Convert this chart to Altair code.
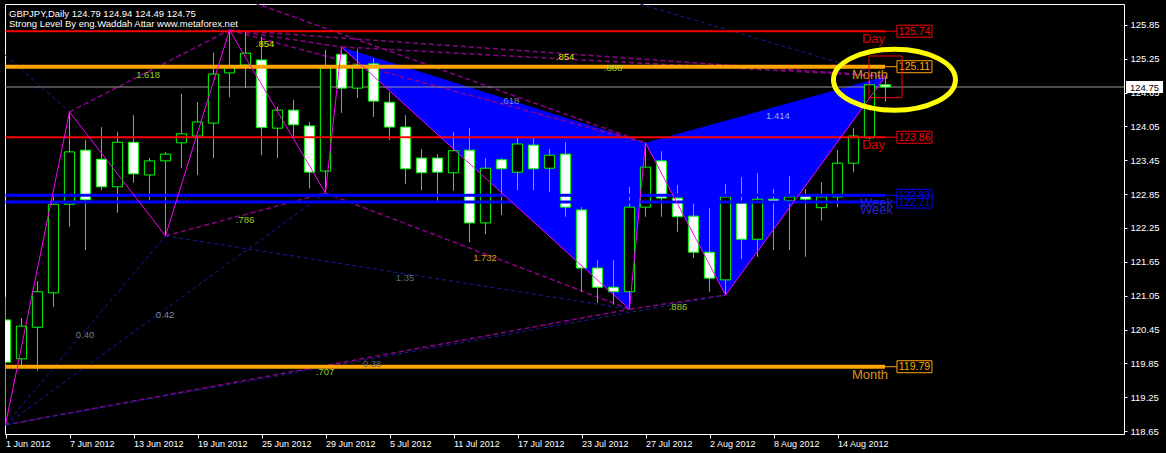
import altair as alt
import pandas as pd

# ---------------- GBPJPY daily bars, 1 Jun 2012 - 17 Aug 2012 ----------------
opens = [120.62, 119.93, 120.49, 121.10, 122.67, 123.63, 123.47, 122.98, 123.77, 123.19,
         123.44, 123.76, 123.88, 124.11, 125.00, 125.14, 125.23, 124.02, 124.34, 124.06,
         123.26, 125.33, 124.73, 125.16, 124.48, 124.04, 123.49, 123.49, 123.23, 123.63,
         122.34, 123.46, 123.24, 123.72, 123.31, 123.56, 122.57, 121.54, 121.20, 121.12,
         122.62, 123.44, 122.78, 122.46, 121.82, 121.33, 122.69, 122.05, 122.76, 122.74,
         122.82, 122.61, 122.80, 123.40, 123.85, 124.79]
highs = [121.03, 120.65, 121.31, 122.85, 124.31, 123.81, 124.04, 123.95, 124.25, 123.49,
         123.60, 124.63, 124.48, 125.36, 125.76, 125.73, 125.64, 124.40, 124.52, 124.13,
         125.41, 125.46, 125.42, 125.26, 124.66, 124.25, 123.65, 123.56, 123.95, 124.02,
         123.49, 123.49, 123.86, 123.86, 123.65, 123.77, 122.62, 121.68, 121.68, 122.98,
         123.76, 123.61, 123.01, 122.70, 122.61, 123.03, 123.15, 123.22, 122.94, 123.17,
         122.94, 123.06, 123.63, 124.02, 124.86, 124.94]
lows = [118.76, 119.75, 119.72, 120.85, 122.27, 121.86, 122.92, 122.52, 123.05, 122.75,
        122.11, 123.31, 123.19, 123.49, 124.57, 124.73, 123.54, 123.49, 123.88, 122.95,
        122.87, 124.29, 124.56, 124.22, 123.81, 123.03, 122.92, 122.73, 122.91, 122.00,
        122.14, 122.48, 122.92, 122.92, 122.89, 122.45, 121.12, 120.92, 120.89, 120.81,
        122.45, 122.45, 122.18, 121.72, 121.12, 121.06, 121.70, 121.74, 121.86, 121.86,
        121.74, 122.38, 122.62, 123.24, 123.82, 124.49]
closes = [119.87, 120.51, 121.12, 122.67, 123.60, 122.75, 122.98, 123.77, 123.21, 123.44,
          123.56, 123.92, 124.13, 124.98, 125.11, 125.35, 124.03, 124.34, 124.08, 123.24,
          125.09, 124.73, 125.14, 124.50, 124.04, 123.30, 123.23, 123.24, 123.62, 122.34,
          123.31, 123.30, 123.74, 123.30, 123.54, 122.62, 121.54, 121.20, 121.12, 122.62,
          123.33, 122.78, 122.45, 121.82, 121.36, 122.80, 122.05, 122.76, 122.72, 122.80,
          122.76, 122.80, 123.40, 123.88, 124.79, 124.75]

# date labels every fourth bar
date_labels = ["1 Jun 2012", "7 Jun 2012", "13 Jun 2012", "19 Jun 2012", "25 Jun 2012",
               "29 Jun 2012", "5 Jul 2012", "11 Jul 2012", "17 Jul 2012", "23 Jul 2012",
               "27 Jul 2012", "2 Aug 2012", "8 Aug 2012", "14 Aug 2012"]
price_ticks = [118.65, 119.25, 119.85, 120.45, 121.05, 121.65, 122.25,
               122.85, 123.45, 124.05, 124.65, 125.25, 125.85]

# zigzag swing points: (bar, "H" for high / "L" for low)
swings = [(0, "L"), (4, "H"), (10, "L"), (14, "H"), (20, "L"),
          (21, "H"), (39, "L"), (40, "H"), (45, "L"), (55, "H")]

# ratio lines between swing points (indices into swings)
purple_pairs = [(1, 3), (3, 5), (3, 7), (3, 9), (5, 9), (2, 4), (4, 6), (6, 8), (0, 6)]
navy_pairs = [(0, 2), (0, 4), (2, 6), (0, 8)]

# strong levels
level_prices = [125.74, 125.11, 123.86, 122.83, 122.71, 119.79]
level_tags = ["Day", "Month", "Day", "Week", "Week", "Month"]

# ratio annotations (bar position, price)
ratio_text = ["1.618", ".854", ".854", ".888", ".618", "1.414", ".786", "1.732",
              "1.35", "0.42", "0.40", ".886", ".707", "0.38"]
ratio_i = [8.91, 16.22, 34.97, 37.97, 31.53, 48.28, 14.97, 29.97,
           24.97, 9.97, 4.97, 42.03, 19.97, 22.91]
ratio_p = [124.96, 125.51, 125.28, 125.09, 124.50, 124.24, 122.39, 121.72,
           121.36, 120.71, 120.35, 120.85, 119.70, 119.84]
ratio_col = ["#9acd32", "#e6e600", "#e6e600", "#9acd32", "#6b8fd6", "#8fb3e6", "#9acd32",
             "#d4a010", "#5a6878", "#7d8ca0", "#6d7c90", "#9acd32", "#9acd32", "#5a6878"]

symbol = "GBPJPY"
last_close = closes[-1]

# ---------------- styling ----------------
FONT = "Liberation Sans"
GREEN = "#00ff00"
tag_style = {  # line colour, line width, text colour, label right edge (bar units)
    "Day": ("#ff0000", 2, "#dd0000", 54.97),
    "Month": ("#ffa500", 4, "#d9951f", 55.16),
    "Week": ("#0000ff", 3, "#2222cc", 55.47),
}
LINE_END = 54.97
BOX_START = 55.72
BOX_CENTER = 56.81

x_scale = alt.Scale(domain=[-0.03125, 69.90625], nice=False, zero=False)
y_scale = alt.Scale(domain=[118.597, 126.222], nice=False, zero=False)

x_axis = alt.Axis(
    values=list(range(0, 4 * len(date_labels), 4)),
    labelExpr="[" + ",".join(f"'{d}'" for d in date_labels) + "][round(datum.value / 4)]",
    orient="bottom", grid=False, domain=False, ticks=True, tickSize=4, tickColor="white",
    labelColor="white", labelFont=FONT, labelFontSize=9, labelAlign="left",
    labelBaseline="top", labelPadding=1, labelOverlap=False, labelFlush=False, title=None,
)
y_axis = alt.Axis(
    values=price_ticks, format=".2f", orient="right", grid=False, domain=False,
    tickSize=3, tickColor="white", labelColor="white", labelFont=FONT, labelFontSize=9.5,
    labelPadding=3, labelOverlap=False, labelFlush=False, title=None,
)


def X(f):
    return alt.X(f, type="quantitative", scale=x_scale, axis=x_axis)


def Y(f):
    return alt.Y(f, type="quantitative", scale=y_scale, axis=y_axis)


# ---------------- tables ----------------
bars = pd.DataFrame({"i": range(len(opens)), "o": opens, "h": highs, "l": lows, "c": closes})


def swing_point(k):
    b, kind = swings[k]
    return b, (highs[b] if kind == "H" else lows[b])


zz = pd.DataFrame([{"n": k, "i": swing_point(k)[0], "p": swing_point(k)[1]}
                   for k in range(len(swings))])


def seg_rows(pairs, tag):
    rows = []
    for a, b in pairs:
        for k in (a, b):
            i, p = swing_point(k)
            rows.append({"seg": f"{tag}{a}-{b}", "i": i, "p": p})
    return rows


purple = pd.DataFrame(seg_rows(purple_pairs, "p")
                      + [{"seg": "pe", "i": 15.09, "p": 126.29},
                         {"seg": "pe", "i": swing_point(7)[0], "p": swing_point(7)[1]}])
navy = pd.DataFrame(seg_rows(navy_pairs, "n")
                    + [{"seg": "na", "i": -0.03, "p": 125.32},
                       {"seg": "na", "i": swing_point(1)[0], "p": swing_point(1)[1]},
                       {"seg": "nb", "i": 37.16, "p": 126.43},
                       {"seg": "nb", "i": swing_point(9)[0], "p": swing_point(9)[1]}])


def triangle(a, b, c):
    # top edge a->c, bottom edge a->b->c
    (ia, pa), (ib, pb), (ic, pc) = swing_point(a), swing_point(b), swing_point(c)
    top_b = pa + (pc - pa) * (ib - ia) / (ic - ia)
    return [{"t": f"{a}", "i": ia, "top": pa, "bot": pa},
            {"t": f"{a}", "i": ib, "top": top_b, "bot": pb},
            {"t": f"{a}", "i": ic, "top": pc, "bot": pc}]


tri = pd.DataFrame(triangle(5, 6, 7) + triangle(7, 8, 9))

levels = pd.DataFrame({"p": level_prices, "tag": level_tags})
levels["col"] = levels["tag"].map(lambda t: tag_style[t][0])
levels["w"] = levels["tag"].map(lambda t: tag_style[t][1])
levels["tcol"] = levels["tag"].map(lambda t: tag_style[t][2])
levels["tx"] = levels["tag"].map(lambda t: tag_style[t][3])
levels["x0"] = 0.0
levels["x1"] = LINE_END
levels["x2"] = BOX_START
levels["xc"] = BOX_CENTER
levels["label"] = levels["p"].map(lambda v: f"{v:.2f}")

ratios = pd.DataFrame({"t": ratio_text, "i": ratio_i, "p": ratio_p, "col": ratio_col})

# ---------------- layers ----------------
fill = alt.layer(
    alt.Chart(tri).mark_area(color="#0000ff", opacity=1, interpolate="linear").encode(
        x=X("i"), y=Y("top"), y2="bot", detail="t:N")
)

dash_purple = alt.Chart(purple).mark_line(color="#8b008b", strokeWidth=1.5,
                                          strokeDash=[5, 3], clip=True).encode(
    x=X("i"), y=Y("p"), detail="seg:N")
dash_navy = alt.Chart(navy).mark_line(color="#1a1aa0", strokeWidth=1,
                                      strokeDash=[4, 3], clip=True).encode(
    x=X("i"), y=Y("p"), detail="seg:N")

price_line = alt.Chart(pd.DataFrame({"p": [last_close], "a": [-0.03125], "b": [69.90625]})).mark_rule(
    color="#9a9a9a", strokeWidth=1).encode(x=X("a"), x2="b", y=Y("p"))

wicks = alt.Chart(bars).mark_rule(color=GREEN, strokeWidth=1, clip=True).encode(
    x=X("i"), y=Y("l"), y2="h")
bodies = alt.Chart(bars).transform_calculate(
    xl="datum.i - 0.32", xr="datum.i + 0.32"
).mark_rect(stroke=GREEN, strokeWidth=1, clip=True).encode(
    x=X("xl:Q"), x2="xr:Q", y=Y("o"), y2="c",
    fill=alt.condition("datum.c >= datum.o", alt.value("#000000"), alt.value("#ffffff")),
)

level_lines = alt.Chart(levels).mark_rule().encode(
    x=X("x0"), x2="x1", y=Y("p"),
    color=alt.Color("col:N", scale=None), strokeWidth=alt.StrokeWidth("w:Q", scale=None))
connectors = alt.Chart(levels).mark_rule(strokeWidth=1).encode(
    x=X("x1"), x2="x2", y=Y("p"), color=alt.Color("col:N", scale=None))
BOX = "M -1 -0.343 L 1 -0.343 L 1 0.343 L -1 0.343 Z"
boxes = alt.Chart(levels).mark_point(shape=BOX, size=1225, filled=True, fill="#000000",
                                     fillOpacity=1, strokeWidth=1, opacity=1).encode(
    x=X("xc"), y=Y("p"), stroke=alt.Stroke("col:N", scale=None))
box_text = alt.Chart(levels).mark_text(font=FONT, fontSize=10.5, align="center",
                                       baseline="middle", dy=0.5).encode(
    x=X("xc"), y=Y("p"), text="label:N", color=alt.Color("col:N", scale=None))
tag_text = alt.Chart(levels).mark_text(font=FONT, fontSize=13, align="right",
                                       baseline="alphabetic", dy=12).encode(
    x=X("tx"), y=Y("p"), text="tag:N", color=alt.Color("tcol:N", scale=None))

zigzag = alt.Chart(zz).mark_line(color="#ff00ff", strokeWidth=1).encode(
    x=X("i"), y=Y("p"), order="n:Q")

ratio_labels = alt.Chart(ratios).mark_text(font=FONT, fontSize=9.5, align="center",
                                           baseline="middle").encode(
    x=X("i"), y=Y("p"), text="t:N", color=alt.Color("col:N", scale=None))

# day range box and highlight ring around the last bars
day_box = alt.Chart(pd.DataFrame({"a": [53.97], "b": [56.03], "lo": [124.56], "hi": [125.30]})).mark_rect(
    fillOpacity=0, stroke="#ff0000", strokeWidth=1).encode(x=X("a"), x2="b", y=Y("lo"), y2="hi")
ELLIPSE = ("M 1 0 C 1 0.276 0.552 0.5 0 0.5 C -0.552 0.5 -1 0.276 -1 0 "
           "C -1 -0.276 -0.552 -0.5 0 -0.5 C 0.552 -0.5 1 -0.276 1 0 Z")
ring = alt.Chart(pd.DataFrame({"i": [55.56], "p": [124.88]})).mark_point(
    shape=ELLIPSE, size=14884, filled=False, stroke="#ffff00", strokeWidth=5, opacity=1).encode(
    x=X("i"), y=Y("p"))

# current price tag on the price scale
tag_box = alt.Chart(pd.DataFrame({"i": [71.19], "p": [last_close]})).mark_point(
    shape="M -1 -0.324 L 1 -0.324 L 1 0.324 L -1 0.324 Z", size=1369, filled=True,
    fill="#ffffff", fillOpacity=1, strokeWidth=0, opacity=1).encode(x=X("i"), y=Y("p"))
tag_price = alt.Chart(pd.DataFrame({"i": [71.19], "p": [last_close],
                                    "t": [f"{last_close:.2f}"]})).mark_text(
    font=FONT, fontSize=9.5, color="#000000", align="center", baseline="middle", dy=0.5).encode(
    x=X("i"), y=Y("p"), text="t:N")

ohlc = f"{opens[-1]:.2f} {highs[-1]:.2f} {lows[-1]:.2f} {closes[-1]:.2f}"
head1 = alt.Chart(pd.DataFrame({"t": [f"{symbol},Daily  {ohlc}"]})).mark_text(
    font=FONT, fontSize=9.5, color="white", align="left", baseline="alphabetic").encode(
    x=alt.value(4), y=alt.value(12.5), text="t:N")
head2 = alt.Chart(pd.DataFrame({"t": ["Strong Level By eng.Waddah Attar www.metaforex.net"]})).mark_text(
    font=FONT, fontSize=9.5, color="white", align="left", baseline="alphabetic").encode(
    x=alt.value(4), y=alt.value(22.5), text="t:N")

chart = alt.layer(
    fill, dash_purple, dash_navy, price_line, wicks, bodies,
    level_lines, connectors, boxes, box_text, tag_text,
    zigzag, ratio_labels, day_box, ring, tag_box, tag_price, head1, head2,
).properties(
    width=1119, height=430, background="#000000",
    padding={"left": 5, "top": 4, "right": 42, "bottom": 19},
    autosize=alt.AutoSizeParams(type="none"),
).configure_view(stroke="#ffffff", strokeWidth=1, fill="#000000")

chart.save("out.html", embed_options={"renderer": "svg", "actions": False})
